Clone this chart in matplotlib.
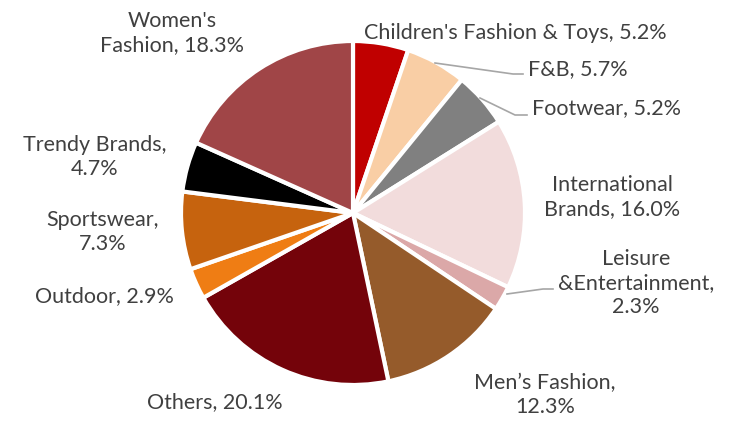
import matplotlib
matplotlib.use("Agg")
import matplotlib.pyplot as plt

categories = ["Children's Fashion & Toys", "F&B", "Footwear", "International Brands",
              "Leisure &Entertainment", "Men\u2019s Fashion", "Others", "Outdoor",
              "Sportswear", "Trendy Brands", "Women's Fashion"]
values = [5.2, 5.7, 5.2, 16.0, 2.3, 12.3, 20.1, 2.9, 7.3, 4.7, 18.3]
colors = ["#C00000", "#F9CEA5", "#808080", "#F2DCDC", "#DBA8A8", "#955B2B",
          "#74030A", "#EF7D14", "#C6630E", "#000000", "#A04547"]
label_texts = ["Children's Fashion & Toys, 5.2%", "F&B, 5.7%", "Footwear, 5.2%",
               "International\nBrands, 16.0%", "Leisure\n&Entertainment,\n2.3%",
               "Men\u2019s Fashion,\n12.3%", "Others, 20.1%", "Outdoor, 2.9%",
               "Sportswear,\n7.3%", "Trendy Brands,\n4.7%", "Women's\nFashion, 18.3%"]

W, H = 733, 421
fig = plt.figure(figsize=(W / 100, H / 100), dpi=100)
ax = fig.add_axes([0, 0, 1, 1])
ax.pie(values, center=(353, H - 213), radius=172, startangle=90, counterclock=False,
       colors=colors, wedgeprops=dict(edgecolor="white", linewidth=3))
ax.set_xlim(0, W)
ax.set_ylim(0, H)
ax.set_aspect("equal")
ax.axis("off")

# label positions in pixel coordinates (x, y from top), alignment
pos = [(515, 33, "center"), (528, 69, "left"), (532, 108, "left"), (612, 197, "center"),
       (636, 283, "center"), (545, 395, "center"), (215, 402, "center"), (104, 296, "center"),
       (103, 232, "center"), (95, 157, "center"), (172, 33, "center")]
fs = 15.5
for t, (x, y, ha) in zip(label_texts, pos):
    ax.text(x, H - y, t, ha=ha, va="center", fontsize=fs, color="#404040",
            family="Lato", linespacing=1.24, multialignment="center")

# leader lines
leaders = [[(435, 63), (513, 74), (523, 74)],
           [(480, 98), (515, 115), (527, 115)],
           [(507, 294), (543, 289), (553, 289)]]
for pts in leaders:
    ax.plot([p[0] for p in pts], [H - p[1] for p in pts], color="#A6A6A6", lw=1.2)

fig.savefig("out.png", dpi=100)
